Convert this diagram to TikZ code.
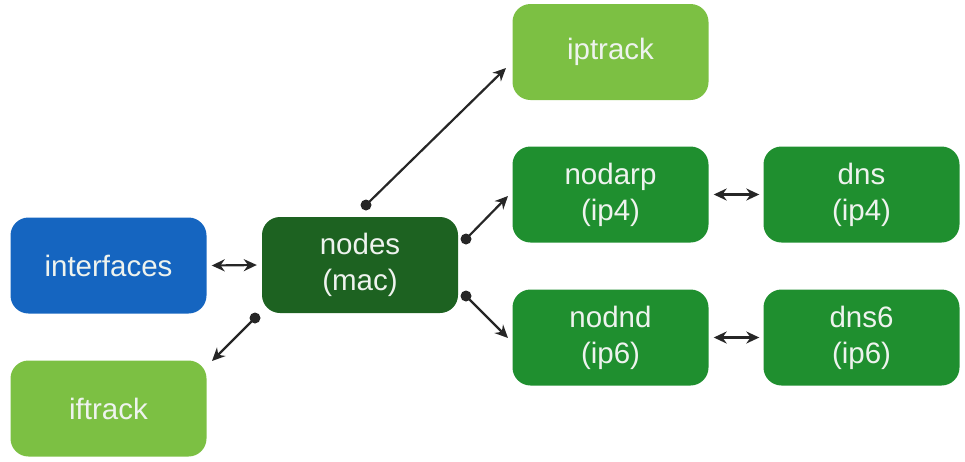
\documentclass[tikz,border=0pt]{standalone}
\usepackage{fontspec}
\setmainfont{Liberation Sans}
\usetikzlibrary{arrows.meta}
\definecolor{cblue}{HTML}{1565C0}
\definecolor{clight}{HTML}{7CC043}
\definecolor{cdark}{HTML}{1D6221}
\definecolor{cmid}{HTML}{1F8F2F}
\definecolor{ctext}{HTML}{EEF3EE}
\tikzset{
  box/.style={rounded corners=18pt, minimum width=196pt, minimum height=96pt, text=ctext,
    font=\fontsize{29.5}{36}\selectfont, align=center, inner sep=0pt},
  conn/.style={line width=2.2pt, draw=black!85},
  dbl/.style={conn, {Stealth[length=13pt,width=12pt]}-{Stealth[length=13pt,width=12pt]}},
  sgl/.style={conn, -{Stealth[length=13pt,width=12pt]}},
  dot/.style={circle, fill=black!85, inner sep=0pt, minimum size=11pt},
}
\begin{document}
\begin{tikzpicture}[x=1pt,y=-1pt]
\useasboundingbox (0,0) rectangle (965,461);
\node[box, fill=cblue]  (interfaces) at (108.5,265.5) {interfaces};
\node[box, fill=clight] (iftrack) at (108.5,408.5) {iftrack};
\node[box, fill=cdark]  (nodes) at (360,265) {nodes\\(mac)};
\node[box, fill=clight] (iptrack) at (610.5,52) {iptrack};
\node[box, fill=cmid]   (nodarp) at (610.5,194.5) {nodarp\\(ip4)};
\node[box, fill=cmid]   (dns) at (861.5,194.5) {dns\\(ip4)};
\node[box, fill=cmid]   (nodnd) at (610.5,337.5) {nodnd\\(ip6)};
\node[box, fill=cmid]   (dns6) at (861.5,337.5) {dns6\\(ip6)};
% connector end points
\node[dot] (a1) at (366,205) {}; \coordinate (a2) at (506,68);
\node[dot] (b1) at (466,239) {}; \coordinate (b2) at (508,196);
\node[dot] (c1) at (466,296) {}; \coordinate (c2) at (508,338);
\node[dot] (d1) at (255,318) {}; \coordinate (d2) at (212,361);
\draw[dbl] ([xshift=-5pt]nodes.west) -- ([xshift=5pt]interfaces.east);
\draw[dbl] ([xshift=5pt]nodarp.east) -- ([xshift=-4pt]dns.west);
\draw[dbl] ([xshift=5pt]nodnd.east) -- ([xshift=-4pt]dns6.west);
\draw[sgl] (a1.center) -- (a2);
\draw[sgl] (b1.center) -- (b2);
\draw[sgl] (c1.center) -- (c2);
\draw[sgl] (d1.center) -- (d2);
\end{tikzpicture}
\end{document}
